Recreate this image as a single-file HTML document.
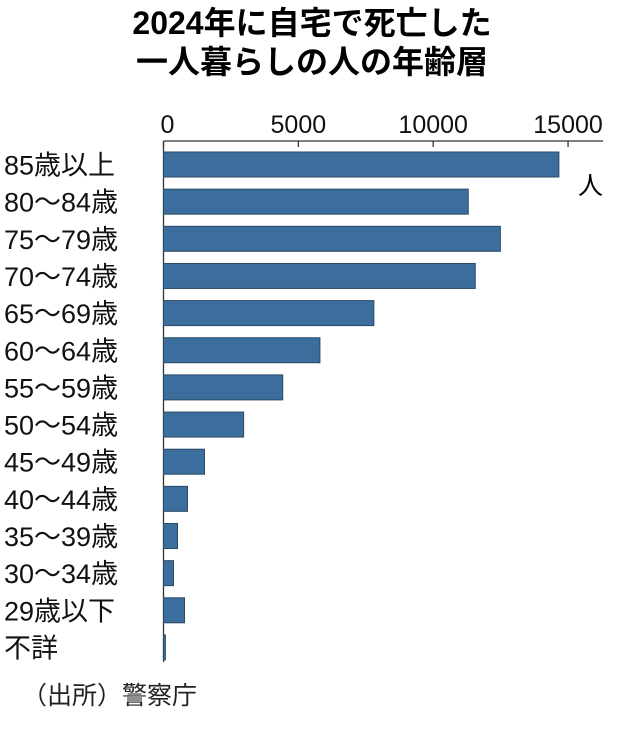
<!DOCTYPE html>
<html><head><meta charset="utf-8"><style>
body{margin:0;background:#fff;width:625px;height:724px;overflow:hidden;font-family:"Liberation Sans","Noto Sans CJK JP",sans-serif;}
</style></head><body>
<svg width="625" height="724" xmlns="http://www.w3.org/2000/svg">
<text x="312" y="34" text-anchor="middle" font-size="32" font-weight="bold" font-family="Liberation Sans,Noto Sans CJK JP,sans-serif">2024年に自宅で死亡した</text>
<text x="312" y="73" text-anchor="middle" font-size="32" font-weight="bold" font-family="Liberation Sans,Noto Sans CJK JP,sans-serif">一人暮らしの人の年齢層</text>
<g id="axis"></g>
<g id="bars"></g>
<text x="578" y="194" font-size="25" font-family="Liberation Sans,Noto Sans CJK JP,sans-serif">人</text>
<text x="22" y="704" font-size="25" fill="#222" font-family="Liberation Sans,Noto Sans CJK JP,sans-serif">（出所）警察庁</text>
</svg>
<script>
const categories=["85歳以上","80～84歳","75～79歳","70～74歳","65～69歳","60～64歳","55～59歳","50～54歳","45～49歳","40～44歳","35～39歳","30～34歳","29歳以下","不詳"];
const values=[14660,11300,12490,11560,7800,5800,4420,2970,1520,890,520,370,780,70];
const ticks=[0,5000,10000,15000];
const tickLabels=["0","5000","10000","15000"];
const NS="http://www.w3.org/2000/svg";
const x0=163.5,scale=0.02697,rowTop=152,rowStep=37.15,barH=25;
const xs=v=>x0+v*scale;
const ys=i=>rowTop+i*rowStep;
function mk(t,a,p){const e=document.createElementNS(NS,t);for(const k in a)e.setAttribute(k,a[k]);p.appendChild(e);return e;}
const ax=document.getElementById('axis'),bg=document.getElementById('bars');
const line=mk('line',{x1:x0,x2:603,y1:141,y2:141,stroke:'#333','stroke-width':1.3},ax);


const vline=mk('line',{x1:x0,x2:x0,y1:141,y2:662,stroke:'#333','stroke-width':1.3},ax);


ticks.forEach((t,i)=>{
 const tk=mk('line',{x1:xs(t),x2:xs(t),y1:141,y2:147,stroke:'#333','stroke-width':1.3},ax);
 
 
 const tl=mk('text',{x:i==0?xs(t)-3:xs(t),y:133,'text-anchor':i==0?'start':'middle','font-size':25,fill:'#111'},ax);
 
 
 tl.textContent=tickLabels[i];
});
categories.forEach((c,i)=>{
 const r=mk('rect',{x:x0,y:ys(i),width:Math.max(0,xs(values[i])-x0),height:barH,fill:'#3b6e9c',stroke:'#2a4a66','stroke-width':1},bg);
 
 
 const l=mk('text',{x:4,y:ys(i)+barH/2+10,'font-size':27,fill:'#111'},bg);
 
 
 l.textContent=c;
});
</script>
</body></html>
